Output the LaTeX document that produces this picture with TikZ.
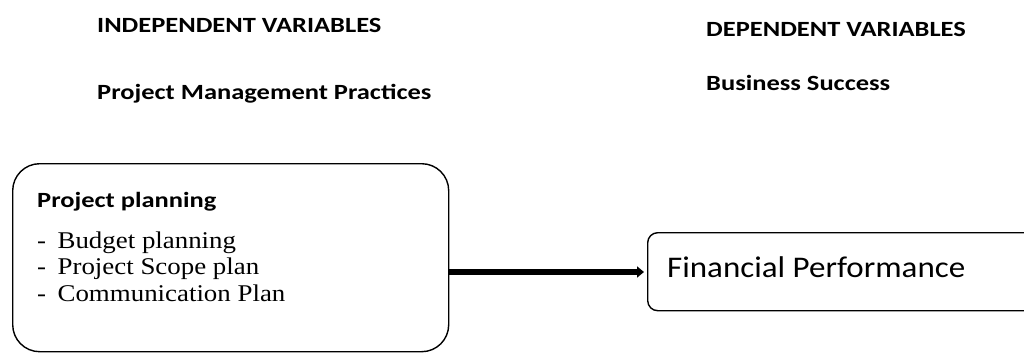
\documentclass[tikz,border=0pt]{standalone}
\usepackage{fontspec}
\usetikzlibrary{arrows.meta}
\newfontfamily\calb[FakeStretch=1.22]{Carlito}
\newfontfamily\calr[FakeStretch=1.1]{Carlito}
\newfontfamily\tms[FakeStretch=1.12]{Liberation Serif}
\tikzset{
  hdr/.style={anchor=base west,inner sep=0pt,font=\calb\fontsize{21.7pt}{24pt}\selectfont\bfseries},
  itm/.style={anchor=base west,inner sep=0pt,font=\tms\fontsize{24pt}{26pt}\selectfont},
  box/.style={draw=black,line width=1.4pt},
}
\newcommand{\dashitem}[1]{-\hspace{11.5pt}#1}
\begin{document}
\begin{tikzpicture}[x=1pt,y=-1pt]
\useasboundingbox (0,0) rectangle (1024,353);
\clip (0,0) rectangle (1024,353);
\node[hdr] (iv) at (97,33) {INDEPENDENT VARIABLES};
\node[hdr] (pmp) at (97,99) {Project Management Practices};
\node[hdr] (dv) at (706,37) {DEPENDENT VARIABLES};
\node[hdr] (bs) at (706,90) {Business Success};
\node[box,rounded corners=27pt,minimum width=436pt,minimum height=188pt,anchor=north west,inner sep=0pt] (lbox) at (12,163) {};
\node[box,rounded corners=10pt,minimum width=400pt,minimum height=78pt,anchor=north west,inner sep=0pt] (rbox) at (647,232) {};
\node[hdr] (pp) at (37,207) {Project planning};
\node[itm] (i1) at (37,248) {\dashitem{Budget planning}};
\node[itm] (i2) at (37,274) {\dashitem{Project Scope plan}};
\node[itm] (i3) at (37,301) {\dashitem{Communication Plan}};
\node[anchor=base west,inner sep=0pt,font=\calr\fontsize{30pt}{32pt}\selectfont] (fp) at (667,277) {Financial Performance};
\coordinate (ay) at (0,272);
\draw[line width=6pt,-{Triangle[length=7pt,width=11pt]}] (lbox.east |- ay) -- ([xshift=-3pt]rbox.west |- ay);
\end{tikzpicture}
\end{document}
